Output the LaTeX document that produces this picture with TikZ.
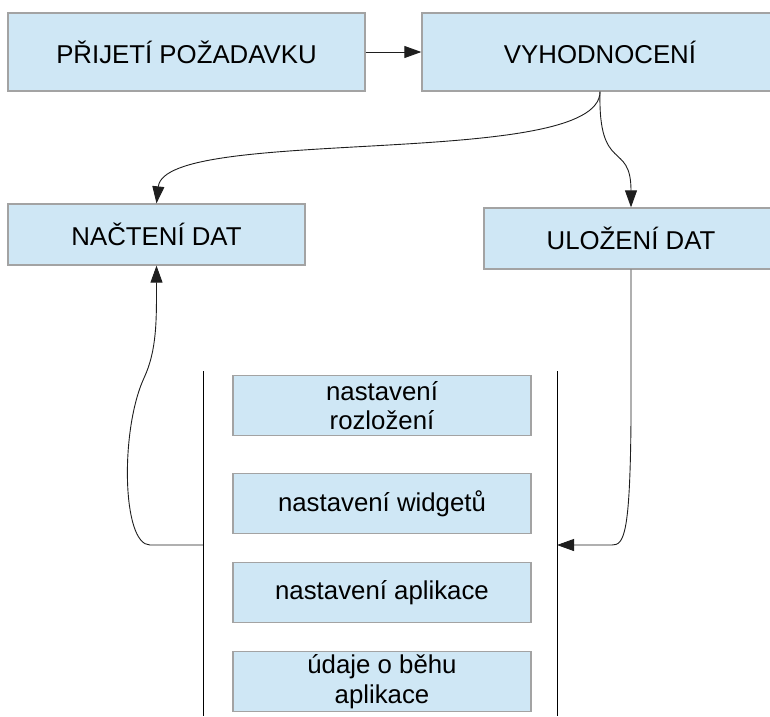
\documentclass[tikz,border=0pt]{standalone}
\usepackage{fontspec}
\setmainfont{Liberation Sans}
\usetikzlibrary{arrows.meta}
\definecolor{boxfill}{RGB}{207,231,245}
\definecolor{boxline}{RGB}{163,163,163}
\definecolor{wire}{RGB}{30,30,30}
\begin{document}
\begin{tikzpicture}[x=1pt,y=-1pt,
  stage/.style={draw=boxline,line width=1.3pt,fill=boxfill,inner sep=0pt,
    font=\fontsize{25.8}{29.5}\selectfont,align=center},
  item/.style={stage,minimum width=298pt,minimum height=60pt},
  arr/.style={draw=wire,line width=0.9pt,-{Triangle[length=17pt,width=12pt]}},
  wall/.style={draw=black,line width=1pt}]
\useasboundingbox (0,0) rectangle (770,716);
\clip (0,0) rectangle (770,716);

% top row
\node[stage,minimum width=357pt,minimum height=78pt] (prijeti) at (186.5,52) {PŘIJETÍ POŽADAVKU};
\node[stage,minimum width=356pt,minimum height=78pt] (vyhod) at (600,52) {VYHODNOCENÍ};

% data stages
\node[stage,minimum width=297pt,minimum height=61pt] (nacteni) at (156.5,234.5) {NAČTENÍ DAT};
\node[stage,minimum width=294pt,minimum height=61pt] (ulozeni) at (631,238.5) {ULOŽENÍ DAT};

% stored items
\node[item] (rozl) at (382,405.5) {nastavení\\rozložení};
\node[item] (widg) at (382,503.5) {nastavení widgetů};
\node[item] (apl)  at (382,592.5) {nastavení aplikace};
\node[item] (beh)  at (382,681.5) {údaje o běhu\\aplikace};

% storage walls
\coordinate (lt) at (203,371);
\coordinate (lb) at (203,716);
\coordinate (rt) at (557,371);
\coordinate (rb) at (557,716);
\draw[wall] (lt) -- (lb);
\draw[wall] (rt) -- (rb);
\coordinate (lout) at (203,545);
\coordinate (rin) at (557,545);

% connectors
\draw[arr] (prijeti.east) -- (vyhod.west);
\draw[arr] (vyhod.south) .. controls (600,170) and (165,125) .. (nacteni.north);
\draw[arr] (vyhod.south) .. controls (598,175) and (631,140) .. (ulozeni.north);
\draw[arr] (lout) -- (150,545) .. controls (122,545) and (120,430) .. (144,378)
  .. controls (157,350) and (156.5,320) .. (nacteni.south);
\draw[arr] (ulozeni.south) -- (631,420) .. controls (630,535) and (624,545) .. (612,545) -- (rin);
\end{tikzpicture}
\end{document}
